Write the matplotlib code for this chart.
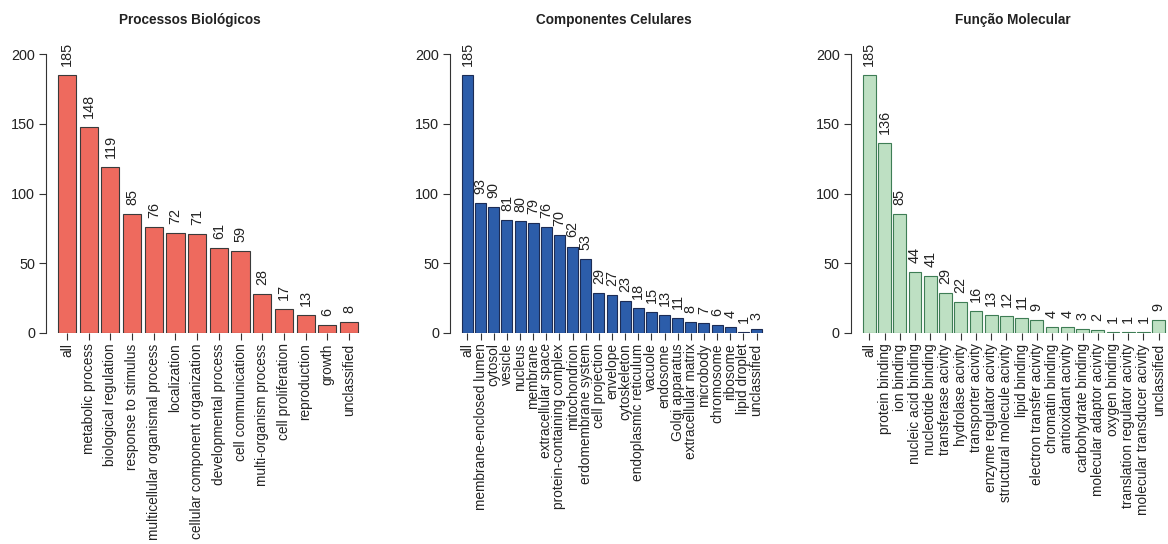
import numpy as np
import matplotlib
matplotlib.use("Agg")
import matplotlib.pyplot as plt

plt.rcParams["font.family"] = ["Liberation Sans", "DejaVu Sans"]

# --- dados ---
bp_titulo = "Processos Biológicos"
bp_cats = ["all", "metabolic process", "biological regulation", "response to stimulus",
           "multicellular organismal process", "localization",
           "cellular component organization", "developmental process",
           "cell communication", "multi-organism process", "cell proliferation",
           "reproduction", "growth", "unclassified"]
bp_vals = [185, 148, 119, 85, 76, 72, 71, 61, 59, 28, 17, 13, 6, 8]

cc_titulo = "Componentes Celulares"
cc_cats = ["all", "membrane-enclosed lumen", "cytosol", "vesicle", "nucleus", "membrane",
           "extracellular space", "protein-containing complex", "mitochondrion",
           "erdomembrane system", "cell projection", "envelope", "cytoskeleton",
           "endoplasmic reticulum", "vacuole", "endosome", "Golgi apparatus",
           "extracellular matrix", "microbody", "chromosome", "ribosome",
           "lipid droplet", "unclassified"]
cc_vals = [185, 93, 90, 81, 80, 79, 76, 70, 62, 53, 29, 27, 23, 18, 15, 13, 11, 8, 7, 6, 4, 1, 3]

mf_titulo = "Função Molecular"
mf_cats = ["all", "protein binding", "ion binding", "nucleic acid binding",
           "nucleotide binding", "transferase acivity", "hydrolase acivity",
           "transporter acivity", "enzyme regulator acivity",
           "structural molecule acivity", "lipid binding", "electron transfer acivity",
           "chromatin binding", "antioxidant acivity", "carbohydrate binding",
           "molecular adaptor acivity", "oxygen binding", "translation regulator acivity",
           "molecular transducer acivity", "unclassified"]
mf_vals = [185, 136, 85, 44, 41, 29, 22, 16, 13, 12, 11, 9, 4, 4, 3, 2, 1, 1, 1, 9]

W, H = 1168, 544
Y0, Y200 = 333, 54          # pixel de y=0 e y=200
FS = 10.4                   # numeros
FS_CAT = 9.9                # nomes das categorias

fig = plt.figure(figsize=(W / 100, H / 100), dpi=100)


def painel(cats, vals, titulo, cor, borda, bl, br, tx, mdir=0.04):
    """barplot estilo R: bl/br = pixels das bordas das barras, tx = centro do titulo."""
    n = len(vals)
    span = 1.2 * n - 0.2
    ppu = (br - bl) / span
    lo, hi = 0.2 - 0.04 * span, 1.2 * n + mdir * span
    left = bl - (0.2 - lo) * ppu
    width = (hi - lo) * ppu
    ax = fig.add_axes([left / W, (H - Y0) / H, width / W, (Y0 - Y200) / H])
    x = 0.7 + 1.2 * np.arange(n)
    ax.bar(x, vals, width=1.0, color=cor, edgecolor=borda, linewidth=0.8)
    for xi, v in zip(x, vals):
        ax.annotate(str(v), (xi, v), xytext=(0, 6.5), textcoords="offset points",
                    rotation=90, ha="center", va="bottom", fontsize=FS,
                    color="#222222", annotation_clip=False)
    ax.set_xlim(lo, hi)
    ax.set_ylim(0, 200)
    for s in ("top", "right", "bottom"):
        ax.spines[s].set_visible(False)
    ax.spines["left"].set_color("#333333")
    ax.spines["left"].set_linewidth(0.8)
    ax.set_yticks([0, 50, 100, 150, 200])
    ax.set_xticks(x)
    ax.set_xticklabels(cats, rotation=90, fontsize=FS_CAT, color="#222222")
    ax.tick_params(axis="y", labelsize=FS, length=5, width=0.8, color="#333333",
                   labelcolor="#222222", pad=3)
    ax.tick_params(axis="x", length=5, width=0.8, color="#333333", pad=2.5)
    fig.text(tx / W, 1 - 20 / H, titulo, ha="center", va="center",
             fontsize=9.8, fontweight="bold", color="#222222")
    return ax


painel(bp_cats, bp_vals, bp_titulo, "#EE6A5E", "#3a3a3a", 58, 358, 190)
painel(cc_cats, cc_vals, cc_titulo, "#2C5DAA", "#1c2c55", 462, 762, 614)
painel(mf_cats, mf_vals, mf_titulo, "#BEE0C3", "#3E7D55", 863, 1165, 1013, mdir=0.005)

fig.savefig("out.png", dpi=100)
